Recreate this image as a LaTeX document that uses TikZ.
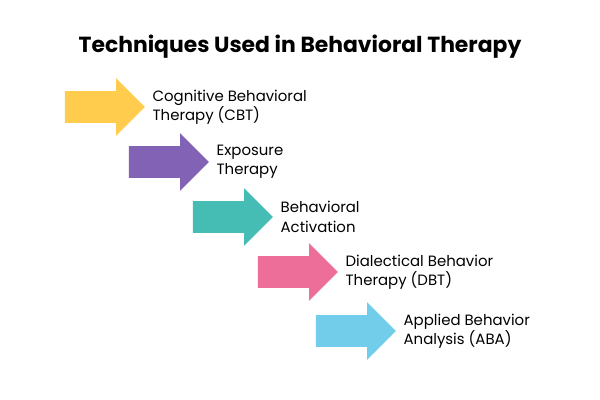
\documentclass[tikz,border=0pt]{standalone}
\usepackage{fontspec}
\setmainfont{Poppins}
\usetikzlibrary{shapes.arrows, positioning}
\definecolor{cbtyellow}{HTML}{FFCC4D}
\definecolor{exppurple}{HTML}{8262B5}
\definecolor{actteal}{HTML}{45BDB5}
\definecolor{dbtpink}{HTML}{EE6E9A}
\definecolor{abablue}{HTML}{72CDEB}
\tikzset{
    x=0.75pt, y=-0.75pt,
    node distance=2pt,
    step/.style={single arrow, fill=#1, draw=none, inner sep=0pt,
        minimum width=57*0.75pt, minimum height=80*0.75pt,
        single arrow head extend=13*0.75pt, single arrow tip angle=90,
        single arrow head indent=0pt}, % arrow of one technique
    label/.style={align=left, font=\fontsize{11.2}{14.5}\selectfont},
}

\begin{document}
\begin{tikzpicture}
            \useasboundingbox (0,0) rectangle (600,400);
            \node[font=\bfseries\fontsize{16.4}{20}\selectfont] (title) at (300,47) {Techniques Used in Behavioral Therapy};

            \node[step=cbtyellow] (CBT) at (97,107) {\rule{0pt}{23.25pt}};
            \node[step=exppurple] (EXP) at (161,162) {\rule{0pt}{23.25pt}};
            \node[step=actteal] (ACT) at (225,217) {\rule{0pt}{23.25pt}};
            \node[step=dbtpink] (DBT) at (290,272) {\rule{0pt}{23.25pt}};
            \node[step=abablue] (ABA) at (348,331) {\rule{0pt}{23.25pt}};

            \node[label, right=of CBT] {Cognitive Behavioral\\Therapy (CBT)};
            \node[label, right=of EXP] {Exposure\\Therapy};
            \node[label, right=of ACT] {Behavioral\\Activation};
            \node[label, right=of DBT] {Dialectical Behavior\\Therapy (DBT)};
            \node[label, right=of ABA] {Applied Behavior\\Analysis (ABA)};
\end{tikzpicture}
\end{document}
